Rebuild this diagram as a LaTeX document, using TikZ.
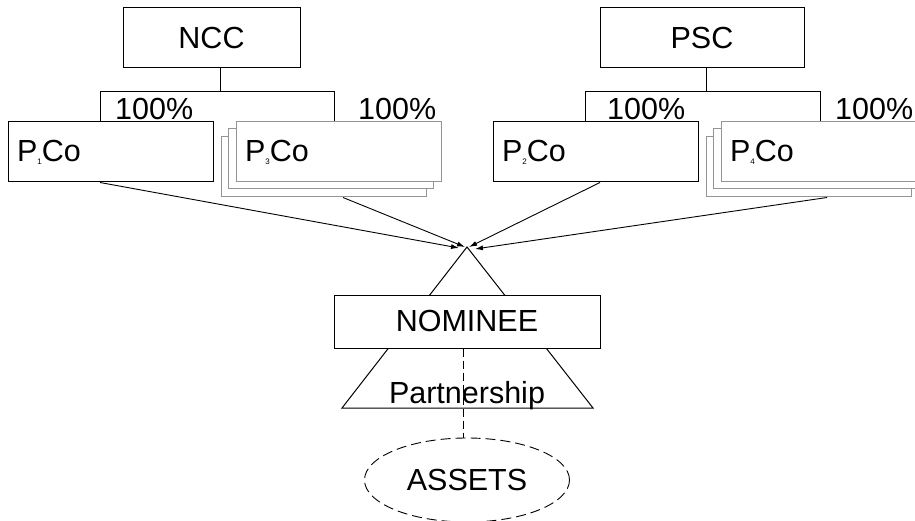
\documentclass[tikz,border=0pt]{standalone}
\usepackage{fontspec}
\setmainfont{Liberation Sans}
\usetikzlibrary{arrows.meta,shapes.geometric}
\newcommand\psub[1]{\raisebox{-3pt}{\fontsize{8}{8}\selectfont #1}}
\begin{document}
\begin{tikzpicture}[x=1pt,y=-1pt,
  every node/.style={font=\fontsize{30.5}{36}\selectfont},
  box/.style={draw, fill=white, line width=1pt, inner sep=0pt},
  topbox/.style={box, minimum height=60pt},
  cobox/.style={box, minimum height=60pt, text width=187pt, align=left, inner xsep=9pt},
  graybox/.style={cobox, draw=black!42},
  plain/.style={line width=1pt},
  arr/.style={line width=0.9pt, -{Latex[length=8pt,width=5pt]}},
  dsh/.style={line width=0.9pt, dash pattern=on 8pt off 4pt},
  pct/.style={anchor=base west, inner sep=0pt}]
\useasboundingbox (0,0) rectangle (915,521);
\clip (0,0) rectangle (915,521);

% top boxes
\node[topbox, minimum width=177pt] (ncc) at (211.5,38) {NCC};
\node[topbox, minimum width=204pt] (psc) at (702,38) {PSC};

% brackets
\coordinate (nb) at (220.5,92);
\coordinate (pb) at (706,92);
\draw[plain] (ncc.south -| nb) -- (nb);
\draw[plain] (psc.south -| pb) -- (pb);
\draw[plain] (100,122) -- (100,92) -- (334,92) -- (334,122);
\draw[plain] (585,122) -- (585,92) -- (820,92) -- (820,122);

% percentages
\node[pct] (l1) at (115,120) {100\%};
\node[pct] (l2) at (358,120) {100\%};
\node[pct] (l3) at (607,120) {100\%};
\node[pct] (l4) at (835,120) {100\%};

% company boxes
\node[cobox] (p1) at (110.5,152) {P\psub{1}Co};
\node[graybox] (p3c) at (324,167) {};
\node[graybox] (p3b) at (330.5,159) {};
\node[graybox] (p3) at (338.5,152) {P\psub{3}Co};
\node[cobox] (p2) at (595.5,152) {P\psub{2}Co};
\node[graybox] (p4c) at (808.5,167) {};
\node[graybox] (p4b) at (815.5,159) {};
\node[graybox] (p4) at (823.5,152) {P\psub{4}Co};

% partnership triangle
\coordinate (apex) at (467,247);
\coordinate (bl) at (342,408);
\coordinate (br) at (593,408);
\draw[plain] (apex) -- (bl) -- (br) -- cycle;

% arrows
\coordinate (t1) at (459,248);
\coordinate (t2) at (465,247);
\coordinate (t3) at (469,247);
\coordinate (t4) at (475,249);
\draw[arr] ([xshift=-10.5pt]p1.south) -- (t1);
\draw[arr] ([xshift=19pt]p3c.south) -- (t2);
\draw[arr] ([xshift=4.5pt]p2.south) -- (t3);
\draw[arr] ([xshift=18.5pt]p4c.south) -- (t4);

% nominee
\node[box, minimum width=266pt, minimum height=53pt] (nom) at (467,321.5) {NOMINEE};
\node[anchor=base, inner sep=0pt] (part) at (467,403) {Partnership};

% assets
\node[draw, ellipse, line width=0.9pt, dash pattern=on 10pt off 5pt,
      minimum width=205pt, minimum height=84pt, inner sep=0pt] (assets) at (467,480) {ASSETS};
\draw[dsh] ([xshift=-4pt]nom.south) -- ([xshift=-4pt]nom.south |- assets.north);
\end{tikzpicture}
\end{document}
